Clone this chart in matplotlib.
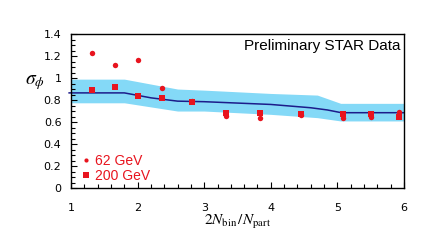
import numpy as np
import matplotlib
matplotlib.use("Agg")
import matplotlib.pyplot as plt
from matplotlib.ticker import MultipleLocator, FixedLocator
from matplotlib.lines import Line2D

plt.rcParams['font.family'] = ['DejaVu Sans']
plt.rcParams['mathtext.fontset'] = 'stix'

# ---------- data ----------
x_62 = [1.31, 1.66, 2.01, 2.36, 2.82, 3.32, 3.84, 4.45, 5.09, 5.51, 5.93]
y_62 = [1.23, 1.12, 1.16, 0.91, 0.79, 0.655, 0.64, 0.665, 0.64, 0.645, 0.69]

x_200 = [1.31, 1.66, 2.01, 2.36, 2.82, 3.32, 3.84, 4.45, 5.09, 5.51, 5.93]
y_200 = [0.89, 0.92, 0.84, 0.82, 0.78, 0.685, 0.685, 0.67, 0.67, 0.67, 0.645]

# model curve with band
x_model = [0.97, 1.8, 2.2, 2.6, 3.0, 4.0, 4.6, 4.85, 5.06, 6.0]
y_model = [0.865, 0.865, 0.82, 0.79, 0.785, 0.76, 0.73, 0.71, 0.685, 0.685]
x_band = [1.0, 1.8, 2.6, 3.0, 4.0, 4.7, 5.05, 6.0]
band_hi = [0.99, 0.99, 0.90, 0.89, 0.86, 0.845, 0.77, 0.77]
band_lo = [0.775, 0.775, 0.70, 0.70, 0.67, 0.64, 0.61, 0.61]

yticks = [0, 0.2, 0.4, 0.6, 0.8, 1.0, 1.2, 1.4]
ytick_labels = ['0', '0.2', '0.4', '0.6', '0.8', '1', '1.2', '1.4']

red = '#e8141e'
navy = '#1c1c8a'
band_col = '#84d9f7'

fig = plt.figure(figsize=(4.31, 2.43), dpi=100)
ax = fig.add_axes([0.165, 0.226, 0.772, 0.634])

ax.fill_between(x_band, band_lo, band_hi, color=band_col, lw=0, zorder=1)
ax.plot(x_model, y_model, color=navy, lw=1.1, zorder=2, clip_on=False)
ax.plot(x_62, y_62, 'o', color=red, ms=3.9, mew=0, zorder=3)
ax.plot(x_200, y_200, 's', color=red, ms=4.2, mew=0, zorder=3)

ax.set_xlim(1, 6)
ax.set_ylim(0, 1.4)
ax.xaxis.set_major_locator(MultipleLocator(1))
ax.xaxis.set_minor_locator(MultipleLocator(0.2))
ax.yaxis.set_major_locator(FixedLocator(yticks))
ax.yaxis.set_minor_locator(MultipleLocator(0.05))
ax.set_yticklabels(ytick_labels)
ax.tick_params(which='both', direction='in', top=False, right=False,
               colors='black', labelsize=8, width=0.8)
ax.tick_params(which='major', length=4)
ax.tick_params(which='minor', length=3)
ax.tick_params(axis='x', pad=11)
ax.tick_params(axis='y', pad=7)
for s in ax.spines.values():
    s.set_linewidth(1.0)

ax.text(0.99, 0.97, 'Preliminary STAR Data', transform=ax.transAxes,
        ha='right', va='top', fontsize=11, family='Liberation Sans')

fig.text(0.058, 0.652, r'$\sigma_{\phi}$', fontsize=14, ha='left', va='baseline')
fig.text(0.552, 0.088, r'$2N_{\rm bin}\,/N_{\rm part}$', fontsize=11,
         ha='center', va='center')

handles = [Line2D([], [], marker='o', ls='none', color=red, ms=3, mew=0),
           Line2D([], [], marker='s', ls='none', color=red, ms=4.5, mew=0)]
leg = ax.legend(handles, ['62 GeV', '200 GeV'], loc='lower left',
                bbox_to_anchor=(0.0, -0.03), frameon=False,
                prop={'family': 'Liberation Sans', 'size': 10},
                labelcolor=red, handlelength=0.8, handletextpad=0.25,
                labelspacing=0.1, borderaxespad=0.3)

fig.savefig('out.png', dpi=100, facecolor='white')
